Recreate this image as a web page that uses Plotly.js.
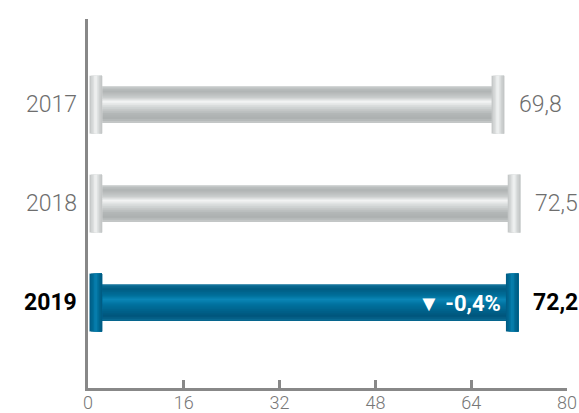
<!DOCTYPE html>
<html>
<head>
<meta charset="utf-8">
<script src="https://cdn.plot.ly/plotly-3.0.1.min.js"></script>
<style>html,body{margin:0;padding:0;background:#fff;}#chart{width:579px;height:413px;}</style>
</head>
<body>
<div id="chart"></div>
<script>
// ---- data ----
const years = ['2017', '2018', '2019'];
const values = [69.8, 72.5, 72.2];
const highlight = [false, false, true];
const changeLabel = '▼ -0,4%';
const xTicks = [0, 16, 32, 48, 64, 80];

// ---- style ----
const catOrder = ['2019', '2018', '2017'];
const BODY_H = 0.37, CAP_H = 0.585;
const CAP_L0 = 0.25, CAP_W = 2.1, CAP_R_GAP = 0.3;
const bodyStops = [ // [fraction from top, gray, blue]
  [0.00, '#cbcece', '#1577a0'],
  [0.12, '#aeb2b2', '#005a80'],
  [0.30, '#c8cbcb', '#006f9a'],
  [0.42, '#f3f4f4', '#0a86b6'],
  [0.55, '#d5d8d8', '#00729f'],
  [0.75, '#b3b7b7', '#005f88'],
  [0.88, '#acb0b0', '#00557b'],
  [1.00, '#cacdcd', '#0c6f98']
];
const capStops = [ // [fraction from left, gray, blue]
  [0.00, '#c0c3c3', '#005a82'],
  [0.30, '#dcdfdf', '#006e99'],
  [0.50, '#f5f6f6', '#0a84b4'],
  [0.70, '#d8dbdb', '#006d98'],
  [1.00, '#bfc2c2', '#00587e']
];
const BODY_N = 18, CAP_N = 8;

function hexToRgb(h) { return [1, 3, 5].map(k => parseInt(h.substr(k, 2), 16)); }
function colorAt(stops, t, idx) {
  for (let k = 1; k < stops.length; k++) {
    if (t <= stops[k][0]) {
      const a = stops[k - 1], b = stops[k];
      const u = (t - a[0]) / (b[0] - a[0]);
      const ca = hexToRgb(a[idx]), cb = hexToRgb(b[idx]);
      return 'rgb(' + ca.map((c, j) => Math.round(c + (cb[j] - c) * u)).join(',') + ')';
    }
  }
  return stops[stops.length - 1][idx];
}

const traces = [];
const common = {type: 'bar', orientation: 'h', y: years, hoverinfo: 'skip', showlegend: false};

// body bands: each band runs from its top edge down to the body's bottom (nested, no seams)
const bodyStart = CAP_L0 + CAP_W - 0.1;
const bodyBottom = -BODY_H / 2;
for (let k = 0; k < BODY_N; k++) {
  const t0 = k / BODY_N, tm = (k + 0.5) / BODY_N;
  const top = BODY_H / 2 - t0 * BODY_H;
  traces.push(Object.assign({}, common, {
    base: values.map(() => bodyStart),
    x: values.map(v => (v - CAP_R_GAP - CAP_W + 0.1) - bodyStart),
    width: top - bodyBottom,
    offset: bodyBottom,
    marker: {color: highlight.map(h => colorAt(bodyStops, tm, h ? 2 : 1)), line: {width: 0}}
  }));
}

// caps (left and right): each band runs from its left edge to the cap's right edge
[values.map(() => CAP_L0), values.map(v => v - CAP_R_GAP - CAP_W)].forEach(starts => {
  for (let k = 0; k < CAP_N; k++) {
    const t0 = k / CAP_N, tm = (k + 0.5) / CAP_N;
    traces.push(Object.assign({}, common, {
      base: starts.map(s => s + t0 * CAP_W),
      x: starts.map(() => (1 - t0) * CAP_W),
      width: CAP_H,
      offset: -CAP_H / 2,
      marker: {color: highlight.map(h => colorAt(capStops, tm, h ? 2 : 1)), line: {width: 0}}
    }));
  }
});

const fmt = v => v.toFixed(1).replace('.', ',');
const annotations = [];
years.forEach((y, i) => {
  const hl = highlight[i];
  const yi = catOrder.indexOf(y);
  const f = {family: 'Roboto', size: 23, color: hl ? '#000000' : '#6e6e6e', weight: hl ? 700 : 300};
  annotations.push({
    xref: 'paper', yref: 'y', x: 0, y: yi, xanchor: 'right', yanchor: 'middle',
    xshift: -9, text: y, showarrow: false, font: f
  });
  annotations.push({
    xref: 'x', yref: 'y', x: values[i], y: yi, xanchor: 'left', yanchor: 'middle',
    xshift: 11, text: fmt(values[i]), showarrow: false, font: f
  });
  if (hl) {
    annotations.push({
      xref: 'x', yref: 'y', x: values[i] - CAP_R_GAP - CAP_W, y: yi, xanchor: 'right', yanchor: 'middle',
      xshift: -3, yshift: -1, text: changeLabel, showarrow: false,
      font: {family: 'Roboto', size: 22, color: '#ffffff', weight: 700}
    });
  }
});

const layout = {
  width: 579, height: 413,
  margin: {l: 88, r: 12, t: 19, b: 25},
  paper_bgcolor: '#ffffff', plot_bgcolor: '#ffffff',
  barmode: 'overlay',
  hovermode: false,
  xaxis: {
    range: [0, 80], tickvals: xTicks, ticktext: xTicks.map(String),
    showgrid: false, zeroline: false,
    showline: true, linecolor: '#888888', linewidth: 3,
    ticks: 'inside', ticklen: 8, tickwidth: 3, tickcolor: '#888888',
    ticklabelstandoff: -4,
    tickfont: {family: 'Roboto', size: 18, color: '#777777', weight: 300}
  },
  yaxis: {
    type: 'category', categoryorder: 'array', categoryarray: catOrder,
    range: [-0.864, 2.866],
    showgrid: false, zeroline: false, showticklabels: false,
    showline: true, linecolor: '#888888', linewidth: 3, ticks: ''
  },
  annotations: annotations
};

Plotly.newPlot('chart', traces, layout, {displayModeBar: false, staticPlot: true});
</script>
</body>
</html>
